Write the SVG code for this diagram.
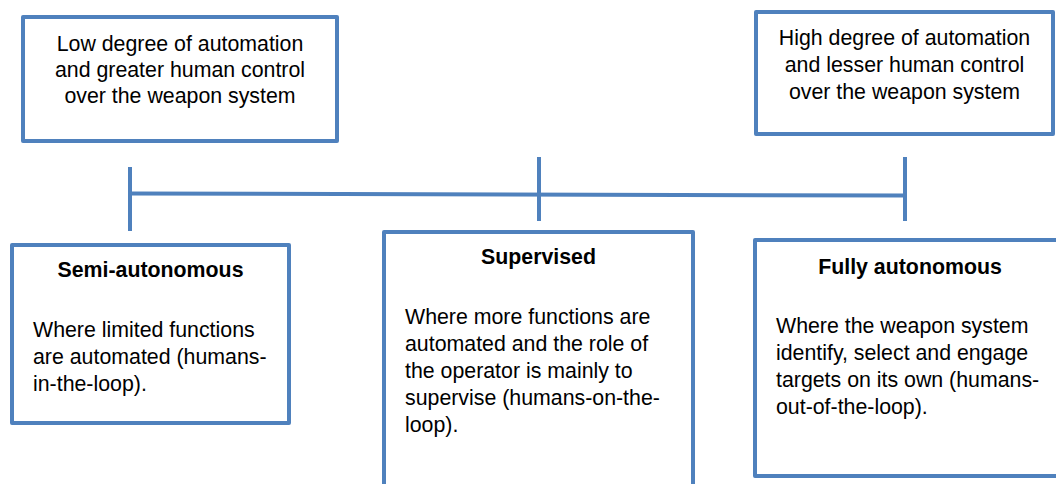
<svg xmlns="http://www.w3.org/2000/svg" width="1056" height="484" viewBox="0 0 1056 484">
  <style>
    .box { fill: #ffffff; stroke: #4F81BD; stroke-width: 4; stroke-linejoin: round; }
    .line { stroke: #4F81BD; stroke-width: 4; fill: none; }
    text { font-family: "Liberation Sans", Arial, sans-serif; font-size: 21.33px; fill: #000000; }
    .c { text-anchor: middle; }
    .b { font-weight: bold; }
  </style>
  <rect width="1056" height="484" fill="#ffffff"/>

  <g id="connectors">
    <line class="line" x1="130" y1="193.5" x2="905" y2="195.5"/>
    <line class="line" x1="130" y1="167" x2="130" y2="231"/>
    <line class="line" x1="539" y1="157" x2="539" y2="221"/>
    <line class="line" x1="905" y1="157" x2="905" y2="221"/>
  </g>

  <g id="low-automation">
    <rect class="box" x="23" y="17" width="314" height="124"/>
    <text class="c" x="180" y="51">Low degree of automation</text>
    <text class="c" x="180" y="77">and greater human control</text>
    <text class="c" x="180" y="103">over the weapon system</text>
  </g>

  <g id="high-automation">
    <rect class="box" x="756" y="12" width="297" height="122"/>
    <text class="c" x="904.5" y="45">High degree of automation</text>
    <text class="c" x="904.5" y="72">and lesser human control</text>
    <text class="c" x="904.5" y="99">over the weapon system</text>
  </g>

  <g id="semi-autonomous">
    <rect class="box" x="12" y="245" width="277" height="178"/>
    <text class="c b" x="150.5" y="277">Semi-autonomous</text>
    <text x="33" y="337">Where limited functions</text>
    <text x="33" y="364">are automated (humans-</text>
    <text x="33" y="391">in-the-loop).</text>
  </g>

  <g id="supervised">
    <rect class="box" x="384" y="232" width="309" height="270"/>
    <text class="c b" x="538.5" y="264">Supervised</text>
    <text x="405" y="324">Where more functions are</text>
    <text x="405" y="351">automated and the role of</text>
    <text x="405" y="378">the operator is mainly to</text>
    <text x="405" y="405">supervise (humans-on-the-</text>
    <text x="405" y="432">loop).</text>
  </g>

  <g id="fully-autonomous">
    <rect class="box" x="755" y="240" width="320" height="236"/>
    <text class="c b" x="910" y="274">Fully autonomous</text>
    <text x="776" y="333">Where the weapon system</text>
    <text x="776" y="360">identify, select and engage</text>
    <text x="776" y="387">targets on its own (humans-</text>
    <text x="776" y="414">out-of-the-loop).</text>
  </g>
</svg>
